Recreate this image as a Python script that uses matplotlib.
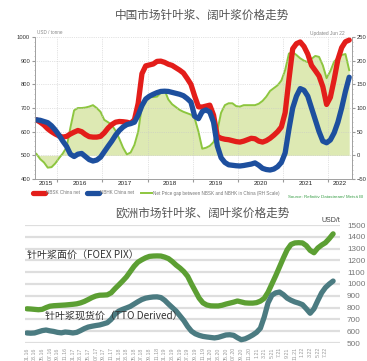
import numpy as np
import matplotlib.pyplot as plt
from matplotlib.ticker import MultipleLocator

plt.rcParams['font.family'] = ['Liberation Sans', 'Noto Sans CJK SC']
CJK = ['Noto Sans CJK SC', 'DejaVu Sans']

# China market, monthly net prices Jul 2015 - Jun 2022 (USD/tonne)
china_first_month = 2015 + 6.5 / 12
nbsk_china = [
    650, 640, 628, 612, 600, 590,
    582, 577, 580, 590, 598, 605, 600, 588, 579, 577, 577, 580,
    595, 615, 630, 640, 643, 642, 640, 636, 650, 720, 845, 878,
    882, 886, 897, 898, 893, 885, 880, 870, 860, 848, 825, 800,
    750, 705, 704, 708, 712, 670, 580, 572, 568, 566, 562, 558,
    556, 560, 566, 572, 570, 560, 556, 562, 572, 585, 600, 620,
    680, 820, 950, 972, 979, 960, 928, 880, 858, 835, 790, 715,
    745, 820, 905, 955, 980, 987,
]
nbhk_china = [
    650, 648, 643, 638, 625, 607,
    585, 560, 538, 505, 495, 505, 508, 495, 482, 476, 480, 492,
    515, 538, 560, 585, 605, 620, 630, 634, 640, 670, 710, 738,
    750, 758, 765, 770, 771, 770, 766, 762, 758, 752, 740, 725,
    665, 655, 685, 692, 683, 640, 540, 490, 470, 460, 458, 456,
    455, 457, 460, 463, 468, 458, 445, 440, 438, 442, 452, 470,
    510, 610, 700, 750, 782, 775, 750, 700, 650, 600, 560, 553,
    565, 595, 640, 700, 770, 830,
]
# gap between NBSK and NBHK, right-hand scale
price_gap = [
    3, -8, -15, -26, -25, -17,
    -6, 4, 17, 58, 95, 100, 100, 101, 103, 106, 100, 92,
    75, 70, 64, 52, 35, 16, 2, 6, 22, 50, 105, 120,
    123, 123, 124, 132, 138, 118, 108, 102, 96, 92, 89, 86,
    78, 50, 14, 16, 20, 28, 52, 90, 106, 110, 110, 104,
    103, 106, 106, 106, 106, 109, 115, 124, 136, 142, 148, 158,
    180, 215, 218, 212, 205, 200, 197, 204, 210, 208, 190, 163,
    178, 198, 206, 212, 214, 180,
]
years = [2015, 2016, 2017, 2018, 2019, 2020, 2021, 2022]

# Europe market, monthly from Jan 2016 (USD/t)
foex_pix = [
    790, 788, 785, 782, 785, 800, 812, 816, 818, 820, 822, 825,
    828, 832, 840, 852, 868, 885, 898, 905, 906, 908, 925, 960,
    992, 1025, 1060, 1105, 1150, 1185, 1205, 1222, 1234, 1237, 1238, 1237,
    1228, 1215, 1190, 1160, 1135, 1105, 1065, 1000, 940, 880, 840, 822,
    815, 814, 814, 820, 830, 838, 846, 856, 848, 840, 838, 838,
    842, 855, 878, 930, 1000, 1070, 1145, 1220, 1290, 1335, 1348, 1350,
    1348, 1325, 1285, 1265, 1305, 1330, 1350, 1385, 1425,
]
tto_derived = [
    585, 583, 585, 595, 605, 610, 603, 598, 590, 586, 593, 590,
    585, 590, 605, 622, 635, 642, 648, 653, 662, 672, 700, 745,
    770, 785, 797, 810, 830, 850, 868, 880, 886, 890, 891, 885,
    862, 830, 800, 770, 730, 690, 640, 600, 578, 565, 556, 551,
    547, 543, 548, 558, 568, 570, 565, 545, 528, 535, 550, 568,
    590, 625, 720, 840, 905, 925, 932, 910, 880, 862, 848, 838,
    825, 790, 752, 790, 860, 925, 970, 1000, 1025,
]
eu_ticks = [
    '01.16', '03.16', '05.16', '07.16', '09.16', '11.16',
    '01.17', '03.17', '05.17', '07.17', '09.17', '11.17',
    '01.18', '03.18', '05.18', '07.18', '09.18', '11.18',
    '01.19', '03.19', '05.19', '07.19', '09.19', '11.19',
    '01.20', '03.20', '05.20', '07.20', '09.20', '11.20',
    '1.21', '3.21', '5.21', '7.21', '9.21', '11.21',
    '1.22', '3.22', '5.22', '7.22',
]

W, H = 367, 361
fig = plt.figure(figsize=(W / 100, H / 100), dpi=100)


def box(x0, y0, x1, y1):
    # pixel rectangle -> figure fraction
    return [x0 / W, 1 - y1 / H, (x1 - x0) / W, (y1 - y0) / H]


# ---------- China chart ----------
t = china_first_month + np.arange(len(nbsk_china)) / 12
ax = fig.add_axes(box(35, 37, 352, 179))
ax2 = ax.twinx()
ax.set_zorder(ax2.get_zorder() + 1)
ax.patch.set_visible(False)

ax2.fill_between(t, price_gap, 0, color='#dde9b3', lw=0)
gap_line, = ax2.plot(t, price_gap, color='#8dc63f', lw=1.4)
sk_line, = ax.plot(t, nbsk_china, color='#e31d1a', lw=3.8, solid_capstyle='round')
hk_line, = ax.plot(t, nbhk_china, color='#1d4f9e', lw=3.8, solid_capstyle='round')

x0, x1 = 2015.51, 2022.52
ax.set_xlim(x0, x1)
ax.set_ylim(400, 1000)
ax2.set_ylim(-50, 250)
ax.set_yticks(range(400, 1001, 100))
ax.yaxis.set_minor_locator(MultipleLocator(20))
ax2.set_yticks(range(-50, 251, 50))
ax2.yaxis.set_minor_locator(MultipleLocator(10))

ax.set_xticks(range(2016, 2023))
ax.set_xticklabels([])
centers = [(max(y, x0) + min(y + 1, x1)) / 2 for y in years]
ax.set_xticks(centers, minor=True)
ax.set_xticklabels([str(y) for y in years], minor=True)
ax.tick_params(axis='x', which='major', length=2, color='#999')
ax.tick_params(axis='x', which='minor', length=0, pad=1.5, labelsize=4.6,
               labelcolor='#222')
ax.tick_params(axis='y', which='major', length=2, pad=1.5, labelsize=4.2,
               labelcolor='#333', color='#999')
ax.tick_params(axis='y', which='minor', length=1, color='#bbb')
ax2.tick_params(axis='y', which='major', length=2, pad=1.5, labelsize=4.2,
                labelcolor='#333', color='#999')
ax2.tick_params(axis='y', which='minor', length=1, color='#bbb')
ax.grid(True, which='major', color='#c8c8c8', lw=0.5, ls=':')
for a in (ax, ax2):
    a.spines['top'].set_visible(False)
    for s in ('left', 'right', 'bottom'):
        a.spines[s].set_color('#a0a0a0')
        a.spines[s].set_linewidth(0.6)

fig.text(202 / W, 1 - 15 / H, '中国市场针叶浆、阔叶浆价格走势', ha='center',
         va='center', fontsize=8.4, color='#555', family=CJK)
fig.text(37 / W, 1 - 33 / H, 'USD / tonne', fontsize=3.3, color='#888', va='center')
fig.text(345 / W, 1 - 33 / H, 'Updated Jun 22', fontsize=3.5, color='#888',
         va='center', ha='right')
fig.legend([sk_line, hk_line, gap_line],
           ['NBSK China net', 'NBHK China net',
            'Net Price gap between NBSK and NBHK in China (RH Scale)'],
           loc='center left', bbox_to_anchor=(33 / W, 1 - 193 / H), ncol=3,
           frameon=False, fontsize=3.3, handlelength=2.6, handletextpad=0.2,
           columnspacing=1.5, borderpad=0, borderaxespad=0, labelcolor='#777')
fig.text(363 / W, 1 - 197 / H, 'Source: Refinitiv Datastream/ Metsä BI',
         ha='right', va='center', fontsize=3.2, color='#3a9f48')

# ---------- Europe chart ----------
m = np.arange(len(foex_pix))
bx = fig.add_axes(box(25, 225, 340, 343))
bx.plot(m, foex_pix, color='#5c9f33', lw=3.8, solid_capstyle='round',
        solid_joinstyle='round')
bx.plot(m, tto_derived, color='#4b7b81', lw=3.8, solid_capstyle='round',
        solid_joinstyle='round')
bx.set_xlim(-0.5, 81.8)
bx.set_ylim(500, 1500)
bx.set_yticks(range(500, 1501, 100))
bx.yaxis.tick_right()
bx.set_xticks(range(0, 2 * len(eu_ticks), 2))
bx.set_xticklabels(eu_ticks, rotation=90)
bx.tick_params(axis='y', length=0, pad=5, labelsize=5.9, labelcolor='#777')
bx.tick_params(axis='x', length=0, pad=3, labelsize=3.8, labelcolor='#9a9a9a')
bx.grid(axis='y', color='#dedede', lw=1.6)
bx.set_axisbelow(True)
for s in bx.spines.values():
    s.set_visible(False)

bx.text(0, 1245, '针叶浆面价（FOEX PIX）', fontsize=7.2, family=CJK,
        color='#333', va='center', ha='left', zorder=5)
bx.text(4.7, 729, '针叶浆现货价（TTO Derived）', fontsize=7.2, family=CJK,
        color='#333', va='center', ha='left', zorder=5)

fig.text(202 / W, 1 - 213 / H, '欧洲市场针叶浆、阔叶浆价格走势', ha='center',
         va='center', fontsize=8.4, color='#555', family=CJK)
fig.text(340 / W, 1 - 221 / H, 'USD/t', ha='right', va='center', fontsize=5,
         color='#444')

fig.savefig('out.png', dpi=100)
